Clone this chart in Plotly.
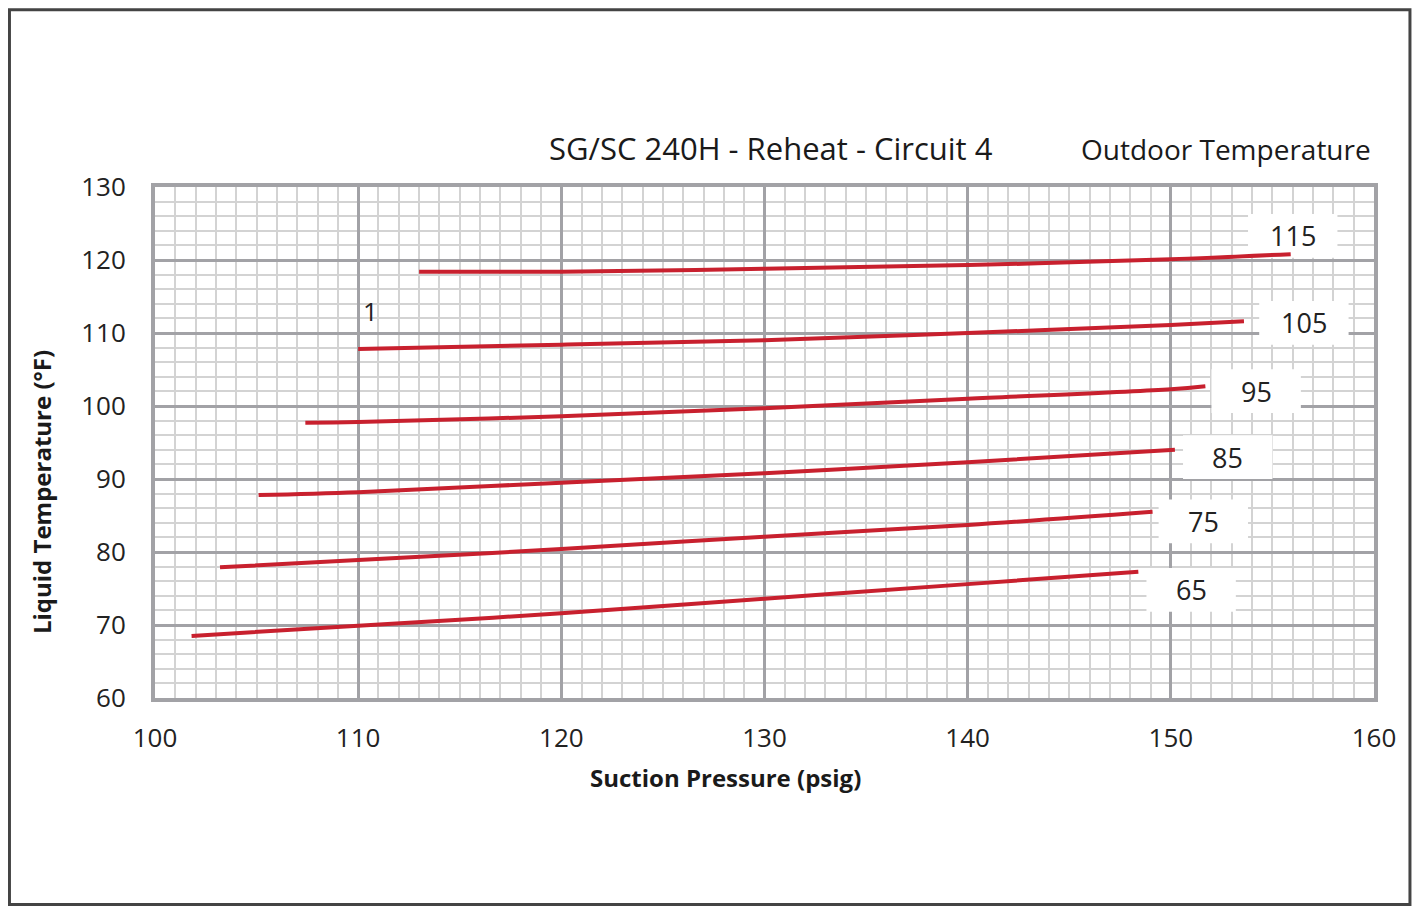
import plotly.graph_objects as go

# suction pressure (psig) / liquid temperature (F), one curve per outdoor temp
outdoor_temps = ["65", "75", "85", "95", "105", "115"]

p_65 = [101.8, 110, 120, 130, 140, 148.4]
t_65 = [68.5, 69.9, 71.6, 73.6, 75.6, 77.3]

p_75 = [103.2, 110, 120, 130, 140, 149.1]
t_75 = [77.9, 78.9, 80.4, 82.1, 83.7, 85.5]

p_85 = [105.1, 110, 120, 130, 140, 150.2]
t_85 = [87.8, 88.2, 89.5, 90.8, 92.3, 94.0]

p_95 = [107.4, 110, 120, 130, 140, 150, 151.7]
t_95 = [97.7, 97.8, 98.6, 99.7, 101.0, 102.3, 102.7]

p_105 = [110.0, 120, 130, 140, 150, 153.6]
t_105 = [107.8, 108.4, 109.0, 110.0, 111.1, 111.6]

p_115 = [113.0, 120, 130, 140, 150, 155.9]
t_115 = [118.4, 118.4, 118.8, 119.3, 120.1, 120.8]

curves = [(p_65, t_65), (p_75, t_75), (p_85, t_85), (p_95, t_95), (p_105, t_105), (p_115, t_115)]

# where the curve labels sit (data coords)
label_x = [151.0, 151.6, 152.8, 154.2, 156.55, 156.0]
label_y = [74.8, 84.2, 93.0, 102.05, 111.4, 123.3]

FONT = "Open Sans"
RED = "#c8202e"
MAJOR = "#a2a2a6"
MINOR = "#d3d3d3"

fig = go.Figure()
for (p, t), name in zip(curves, outdoor_temps):
    fig.add_trace(go.Scatter(x=p, y=t, mode="lines", name=name,
                             line=dict(color=RED, width=4, shape="spline"),
                             showlegend=False, hoverinfo="skip"))

# label boxes: white patches over the grid but under the curves
for name, lx, ly in zip(outdoor_temps, label_x, label_y):
    fig.add_shape(type="rect", x0=lx - 2.2, x1=lx + 2.2, y0=ly - 3.0, y1=ly + 3.0,
                  fillcolor="white", line=dict(width=0), layer="between")
    fig.add_annotation(x=lx, y=ly, text=name, showarrow=False,
                       font=dict(family=FONT, size=27, color="#222"))

fig.add_annotation(x=110.6, y=113.0, text="1", showarrow=False,
                   font=dict(family=FONT, size=26, color="#222"))

# titles placed in paper coords around the plot area
def note(text, x, y, size, angle=0):
    fig.add_annotation(x=x, y=y, xref="paper", yref="paper", showarrow=False,
                       xanchor="center", yanchor="middle", text=text, textangle=angle,
                       font=dict(family=FONT, size=size, color="#1a1a1a"))

note("SG/SC 240H - Reheat - Circuit 4", 0.505, 1.076, 31)
note("Outdoor Temperature", 0.8786, 1.074, 28)
note("<b>Suction Pressure (psig)</b>", 0.4676, -0.1546, 24)
note("<b>Liquid Temperature (°F)</b>", -0.0935, 0.403, 24, angle=-90)

# outer frame around the whole picture
fig.add_shape(type="rect", xref="paper", yref="paper",
              x0=-0.1194, x1=1.0295, y0=-0.404, y1=1.347,
              line=dict(color="#444", width=3))

axis_common = dict(showline=True, linecolor=MAJOR, linewidth=4, mirror=True,
                   showgrid=True, gridcolor=MAJOR, gridwidth=3, zeroline=False,
                   ticks="", tickfont=dict(family=FONT, size=26, color="#222"))

fig.update_xaxes(range=[100, 160], dtick=10, ticklabelstandoff=14,
                 minor=dict(dtick=1, showgrid=True, gridcolor=MINOR, gridwidth=1.5),
                 **axis_common)
fig.update_yaxes(range=[60, 130], dtick=10, ticklabelstandoff=20,
                 minor=dict(dtick=2, showgrid=True, gridcolor=MINOR, gridwidth=1.5),
                 **axis_common)

fig.update_layout(width=1405, height=898,
                  margin=dict(l=147, r=39, t=179, b=208),
                  paper_bgcolor="white", plot_bgcolor="white")

fig.write_html("out.html")
